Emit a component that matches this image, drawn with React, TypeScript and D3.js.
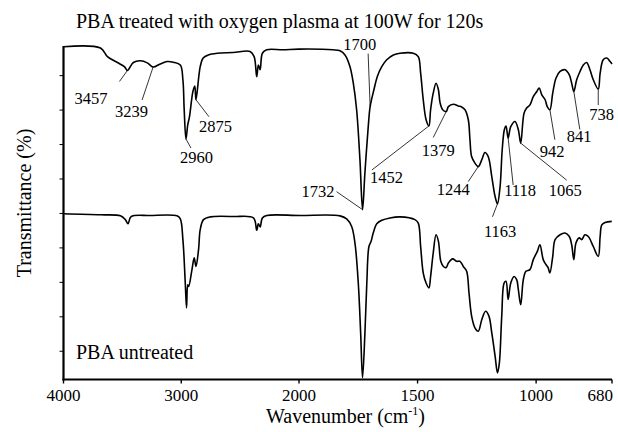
import React from "react";
import * as d3 from "d3";

// FTIR spectra of PBA: [wavenumber (cm-1), transmittance (offset, a.u.)]
const treatedSpectrum: [number, number][] = [
  [4000, 98.4], [3686, 98.0], [3627, 95.5], [3542, 93.8], [3483, 92.6], [3457, 91.5],
  [3407, 93.8], [3347, 94.3], [3288, 93.7], [3239, 92.5], [3178, 93.4], [3119, 94.1],
  [3068, 93.9], [3008, 93.1], [2986, 88.8], [2975, 80.1], [2960, 71.6], [2945, 75.7],
  [2930, 78.1], [2901, 85.4], [2885, 87.0], [2875, 83.0], [2839, 92.6], [2814, 95.1],
  [2771, 96.0], [2695, 96.5], [2559, 96.7], [2415, 97.0], [2381, 95.5], [2359, 89.7],
  [2345, 93.1], [2330, 91.7], [2311, 96.5], [2274, 97.5], [2136, 97.5], [2000, 97.7],
  [1857, 97.5], [1827, 97.2], [1806, 96.0], [1785, 92.6], [1771, 87.8], [1757, 80.1],
  [1743, 65.6], [1732, 51.1], [1722, 61.8], [1708, 75.2], [1700, 81.0], [1684, 85.9],
  [1670, 89.7], [1651, 92.6], [1630, 94.6], [1602, 96.0], [1574, 96.5], [1518, 96.5],
  [1497, 95.5], [1487, 90.7], [1476, 83.0], [1464, 77.2], [1452, 75.4], [1445, 80.1],
  [1434, 84.9], [1422, 87.8], [1412, 85.9], [1405, 82.1], [1394, 80.1], [1379, 79.6],
  [1370, 81.0], [1349, 81.7], [1328, 81.2], [1314, 80.9], [1300, 80.1], [1286, 77.2],
  [1279, 71.4], [1272, 66.5], [1258, 64.6], [1244, 63.6], [1229, 65.6], [1216, 67.7],
  [1202, 66.5], [1187, 60.7], [1173, 54.9], [1163, 52.8], [1152, 57.8], [1143, 68.5],
  [1134, 74.3], [1127, 75.4], [1118, 71.9], [1107, 75.2], [1089, 76.7], [1075, 74.3],
  [1065, 70.4], [1051, 79.1], [1040, 80.6], [1026, 81.5], [1012, 83.9], [997, 85.4],
  [987, 86.4], [976, 84.4], [962, 83.0], [953, 81.0], [942, 80.1], [930, 84.9],
  [916, 89.3], [899, 91.2], [878, 91.7], [860, 90.2], [850, 87.8], [841, 85.4],
  [829, 88.8], [815, 91.2], [801, 93.1], [787, 93.8], [773, 91.7], [759, 88.8],
  [738, 86.1], [730, 90.7], [717, 94.6], [702, 95.1], [688, 94.1], [680, 93.4],
];

const untreatedSpectrum: [number, number][] = [
  [4000, 49.9], [3686, 49.6], [3517, 49.3], [3475, 48.2], [3452, 47.0], [3426, 49.1],
  [3263, 49.4], [3036, 49.3], [3008, 48.4], [2986, 42.4], [2966, 29.9], [2955, 22.6],
  [2945, 29.3], [2937, 28.8], [2909, 33.7], [2890, 37.1], [2875, 34.6], [2853, 39.5],
  [2839, 45.3], [2811, 48.2], [2754, 49.0], [2557, 49.1], [2387, 48.7], [2359, 45.1],
  [2345, 47.0], [2330, 46.1], [2311, 48.7], [2274, 49.4], [1996, 49.4], [1827, 49.3],
  [1799, 48.4], [1778, 46.2], [1764, 41.4], [1750, 29.8], [1740, 15.3], [1732, 2.3],
  [1722, 15.3], [1714, 29.8], [1705, 40.4], [1696, 41.9], [1687, 44.3], [1672, 47.0],
  [1651, 48.0], [1616, 48.7], [1574, 49.0], [1511, 48.2], [1497, 47.2], [1487, 40.4],
  [1476, 32.7], [1464, 29.8], [1452, 28.4], [1445, 31.7], [1434, 38.5], [1422, 43.8],
  [1412, 41.9], [1402, 36.1], [1391, 34.6], [1379, 34.3], [1370, 35.6], [1352, 36.8],
  [1335, 36.1], [1321, 36.1], [1307, 34.6], [1293, 33.2], [1283, 26.9], [1272, 20.2],
  [1258, 16.8], [1244, 15.8], [1229, 19.2], [1213, 21.6], [1199, 20.2], [1187, 15.3],
  [1173, 8.6], [1163, 3.7], [1155, 6.6], [1145, 20.2], [1135, 29.8], [1127, 30.3],
  [1118, 25.0], [1107, 29.8], [1093, 31.7], [1082, 30.8], [1075, 27.9], [1065, 23.5],
  [1054, 30.8], [1043, 33.2], [1026, 33.7], [1012, 36.6], [995, 39.0], [984, 40.9],
  [970, 36.6], [958, 35.1], [949, 34.2], [942, 32.7], [930, 37.5], [920, 42.4],
  [899, 43.8], [878, 44.3], [860, 43.3], [850, 40.9], [841, 36.6], [832, 41.4],
  [818, 42.9], [808, 42.4], [794, 43.8], [780, 43.3], [759, 40.4], [738, 37.5],
  [730, 43.3], [723, 46.7], [709, 47.4], [681, 47.7],
];

// Band positions annotated on the treated spectrum (cm-1)
const annotatedBands = [3457, 3239, 2960, 2875, 1732, 1700, 1452, 1379, 1244, 1163, 1118, 1065, 942, 841, 738];

const xTickValues = [4000, 3000, 2000, 1500, 1000, 680];
const yTickValues = [10, 20, 30, 40, 50, 60, 70, 80, 90];

const titleText = "PBA treated with oxygen plasma at 100W for 120s";
const untreatedText = "PBA untreated";

// Annotation placement, pixel offsets from the band point: [leaderDx, leaderDy, textDx, textDy]
const annotationOffsets: Record<number, [number, number, number, number]> = {
  3457: [-8, 11, -53, 34],
  3239: [-11, 33, -38, 50],
  2960: [5, 9, -6, 24],
  2875: [13, 17, 3, 32],
  1732: [-26, -18, -61, -13],
  1700: [-2, -53, -27, -57],
  1452: [-57, 44, -59, 57],
  1379: [-13, 26, -24.5, 45],
  1244: [-10, 15, -41.5, 28],
  1163: [-5, 13, -13.5, 33],
  1118: [5, 47, -4, 58],
  1065: [46, 37, 28, 53],
  942: [5, 30, -10, 47],
  841: [6, 38, -7, 51],
  738: [0, 16, -9, 31],
};

const FONT = "Liberation Serif";

export default function App() {
  const width = 618;
  const height = 432;
  const left = 63.5;
  const right = 612;
  const top = 46;
  const bottom = 379.5;

  // Wavenumber axis with a doubled scale below 2000 cm-1
  const x = d3.scaleLinear().domain([4000, 2000, 680]).range([left, 299, right]);
  const y = d3.scaleLinear().domain([1.8, 98.6]).range([bottom, top]);

  const line = d3
    .line<[number, number]>()
    .x((d) => x(d[0]))
    .y((d) => y(d[1]))
    .curve(d3.curveCatmullRom.alpha(0.5));

  const bandValue = (w: number) => {
    const p = treatedSpectrum.find((d) => d[0] === w);
    return p ? p[1] : 0;
  };

  return (
    <svg
      width={width}
      height={height}
      fontFamily={FONT}
      style={{ position: "absolute", left: 0, top: 0, background: "#fff" }}
    >
      <rect x={0} y={0} width={width} height={height} fill="#fff" />
      <text x={76} y={28} fontSize={20} fill="#000">
        {titleText}
      </text>

      {/* spectra */}
      <path d={line(treatedSpectrum) ?? ""} fill="none" stroke="#000" strokeWidth={1.6} strokeLinejoin="round" />
      <path d={line(untreatedSpectrum) ?? ""} fill="none" stroke="#000" strokeWidth={1.6} strokeLinejoin="round" />

      {/* band annotations */}
      {annotatedBands.map((w) => {
        const px = x(w);
        const py = y(bandValue(w));
        const [ldx, ldy, tdx, tdy] = annotationOffsets[w];
        return (
          <g key={w}>
            <line x1={px} y1={py} x2={px + ldx} y2={py + ldy} stroke="#000" strokeWidth={0.8} />
            <text x={px + tdx} y={py + tdy} fontSize={16.5} fill="#000">
              {w}
            </text>
          </g>
        );
      })}

      <text x={76} y={359} fontSize={20} fill="#000">
        {untreatedText}
      </text>

      {/* axes */}
      <line x1={left} y1={top} x2={left} y2={bottom + 1} stroke="#000" strokeWidth={2.2} />
      <line x1={left - 1} y1={bottom} x2={right} y2={bottom} stroke="#000" strokeWidth={2.2} />
      {yTickValues.map((v) => (
        <line key={v} x1={left - 4} x2={left} y1={y(v)} y2={y(v)} stroke="#000" strokeWidth={1} />
      ))}
      {xTickValues.map((w) => (
        <g key={w}>
          <line x1={x(w)} x2={x(w)} y1={bottom} y2={bottom + 4} stroke="#000" strokeWidth={1.4} />
          <text
            x={w === 680 ? x(w) + 1 : x(w)}
            y={401}
            fontSize={17}
            textAnchor={w === 680 ? "end" : "middle"}
            fill="#000"
          >
            {w}
          </text>
        </g>
      ))}

      <text x={345.5} y={423} fontSize={20} textAnchor="middle" fill="#000">
        Wavenumber (cm
        <tspan fontSize={12} dy={-8}>-1</tspan>
        <tspan dy={8}>)</tspan>
      </text>
      <text transform={`translate(31,203) rotate(-90)`} fontSize={20} textAnchor="middle" fill="#000">
        Transmittance (%)
      </text>
    </svg>
  );
}
